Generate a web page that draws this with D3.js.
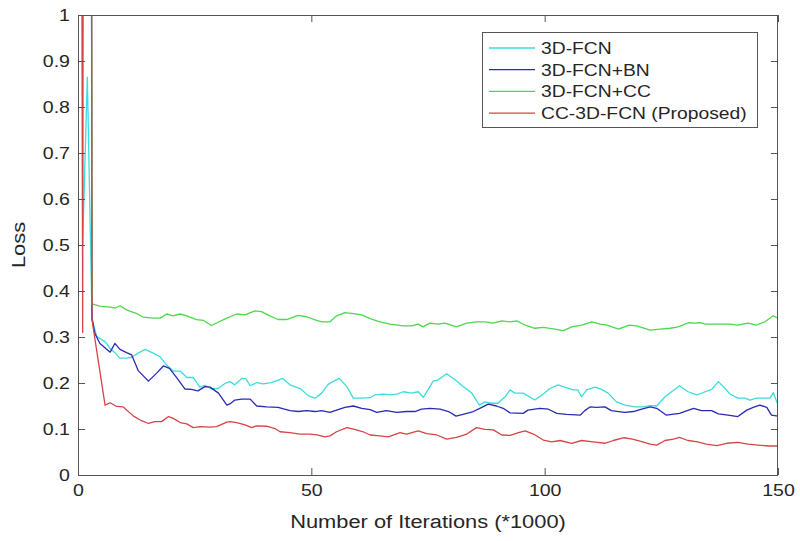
<!DOCTYPE html>
<html lang="en">
<head>
  <meta charset="UTF-8">
  <title>Loss curves</title>
  <script src="https://cdnjs.cloudflare.com/ajax/libs/d3/7.8.5/d3.min.js"></script>
  <style>
    * { margin: 0; padding: 0; }
    html, body { background: #fff; }
    svg text { font-family: "Liberation Sans", Arial, sans-serif; fill: #262626; }
  </style>
</head>
<body>
<div id="chart"></div>
<script>
  // values: [iteration (*1000), loss]
  const fcn = [[0,6],[1,0.5],[2,0.865],[3,0.34],[4,0.301],[5.8,0.29],[6.9,0.275],[7.9,0.266],[9,0.254],[10.4,0.254],[11.5,0.256],[12.9,0.265],[14.4,0.273],[16.1,0.265],[17.6,0.257],[19,0.239],[20.4,0.226],[21.9,0.226],[23.3,0.212],[24.7,0.212],[26.1,0.191],[27.2,0.195],[28.6,0.187],[30,0.188],[31.5,0.199],[32.6,0.203],[33.6,0.196],[35.1,0.21],[36,0.209],[36.9,0.194],[38.3,0.201],[39.7,0.198],[41.4,0.201],[42.6,0.205],[43.9,0.21],[45.4,0.196],[47.6,0.188],[49.4,0.172],[50.8,0.167],[52.2,0.178],[53.6,0.197],[54.6,0.203],[56,0.21],[57.6,0.192],[59,0.167],[60.8,0.167],[62.6,0.168],[63.6,0.174],[65.4,0.176],[66.9,0.174],[68.3,0.176],[69.7,0.181],[71.5,0.178],[72.9,0.181],[74,0.169],[75,0.185],[76.1,0.204],[77.2,0.207],[79,0.22],[80.8,0.207],[82.6,0.192],[84.4,0.178],[86,0.152],[87.2,0.159],[88.6,0.156],[90,0.156],[91.5,0.17],[92.6,0.185],[93.6,0.178],[95.4,0.178],[97.9,0.163],[99.7,0.176],[101.1,0.188],[102.9,0.196],[104.3,0.191],[106.1,0.185],[107.1,0.185],[107.9,0.17],[109,0.185],[110.8,0.191],[112.2,0.186],[113.6,0.178],[115.4,0.159],[117.2,0.152],[119.3,0.148],[121.1,0.148],[122.6,0.151],[124,0.15],[125.8,0.17],[127.2,0.181],[128.9,0.194],[130.7,0.181],[132.6,0.174],[134.4,0.181],[135.8,0.186],[137.2,0.203],[138.3,0.192],[139.7,0.176],[141.4,0.167],[142.9,0.167],[144,0.163],[145.4,0.167],[147.2,0.167],[148.3,0.167],[149,0.179],[150,0.152]]
  const fcnBN = [[0,6],[1,5],[2,8],[3,0.341],[3.6,0.308],[4.7,0.286],[6.9,0.267],[7.9,0.286],[9,0.273],[10.4,0.266],[11.5,0.261],[12.9,0.227],[15.1,0.204],[16.9,0.222],[18.3,0.237],[19.6,0.232],[21.1,0.212],[22.9,0.187],[24.3,0.186],[25.7,0.183],[27.2,0.192],[28.3,0.191],[30.1,0.178],[31.9,0.152],[32.6,0.155],[33.6,0.163],[35.1,0.165],[36.9,0.165],[38.3,0.15],[40.4,0.148],[42.9,0.147],[45.4,0.14],[47.2,0.138],[49,0.14],[50.8,0.138],[52.2,0.14],[54,0.136],[55.4,0.141],[57.2,0.147],[59,0.15],[60.8,0.145],[62.6,0.142],[64,0.136],[66.1,0.14],[68.3,0.136],[70.4,0.138],[72.2,0.138],[73.6,0.143],[75.4,0.145],[77.6,0.143],[79.4,0.138],[81,0.128],[82.9,0.133],[84.7,0.138],[86.1,0.145],[87.9,0.154],[89.7,0.15],[91.1,0.145],[92.6,0.135],[95.4,0.134],[96.4,0.141],[99,0.145],[100.8,0.143],[102.6,0.134],[104.7,0.132],[107.6,0.13],[108.6,0.14],[109.7,0.148],[111.1,0.147],[112.9,0.148],[114.3,0.14],[115.8,0.138],[117.2,0.136],[119,0.138],[120.8,0.143],[122.6,0.148],[124,0.145],[126.1,0.13],[128.9,0.134],[131.9,0.145],[133.6,0.14],[135.8,0.14],[137.2,0.133],[139.3,0.13],[141.4,0.127],[143.3,0.141],[144.7,0.147],[146.1,0.152],[147.6,0.147],[148.6,0.13],[150,0.128]]
  const fcnCC = [[0,6],[1,5],[2,8],[3,0.372],[4.7,0.367],[6.9,0.365],[8,0.363],[9,0.368],[10.4,0.359],[12.6,0.351],[14,0.343],[16.1,0.341],[17.6,0.341],[19,0.35],[20.4,0.346],[21.9,0.35],[23.3,0.346],[25.4,0.338],[26.9,0.336],[28.6,0.325],[30,0.332],[31.9,0.341],[34,0.35],[35.8,0.348],[37.9,0.357],[39.3,0.355],[41.1,0.346],[42.9,0.338],[44.7,0.338],[47.2,0.347],[49,0.344],[50.8,0.337],[52.3,0.333],[54,0.333],[55.4,0.346],[57.2,0.353],[59,0.351],[60.8,0.348],[62.6,0.34],[64.7,0.333],[66.9,0.328],[69.7,0.324],[71.5,0.324],[72.9,0.328],[73.9,0.322],[75.4,0.33],[77.2,0.328],[78.6,0.33],[81.1,0.322],[83.3,0.33],[85.4,0.333],[87.2,0.333],[89,0.33],[90.8,0.335],[92.6,0.333],[94,0.335],[95.8,0.326],[97.9,0.319],[99.7,0.321],[102.2,0.317],[104,0.314],[105.8,0.322],[107.9,0.326],[110.1,0.333],[111.9,0.328],[113.4,0.326],[115.8,0.317],[118.1,0.326],[119.7,0.324],[122.6,0.315],[124.7,0.317],[126.9,0.319],[128.6,0.322],[130.8,0.331],[132.2,0.33],[133.3,0.331],[134.4,0.328],[136.9,0.328],[139.7,0.328],[141.4,0.326],[143.6,0.33],[145.3,0.326],[147.2,0.333],[149,0.346],[150,0.341]]
  const ccFCN = [[0,6],[1,0.31],[2,8],[3,0.337],[5.8,0.152],[6.9,0.157],[8.3,0.149],[9.7,0.148],[11.9,0.128],[13.6,0.118],[15.1,0.112],[16.5,0.116],[17.9,0.116],[19.4,0.127],[20.4,0.123],[21.9,0.114],[23.3,0.111],[24.7,0.103],[26.1,0.105],[28.3,0.104],[29.7,0.105],[31.9,0.115],[32.6,0.116],[34,0.114],[35.8,0.109],[37.2,0.103],[38.3,0.107],[40.4,0.106],[42.2,0.101],[43.3,0.094],[45.4,0.092],[47.6,0.089],[49.7,0.089],[51.2,0.087],[52.9,0.083],[54,0.085],[55.4,0.094],[57.6,0.103],[59.3,0.099],[61.1,0.094],[62.6,0.087],[64.7,0.085],[66.5,0.083],[69,0.092],[70.4,0.089],[72.9,0.096],[74.7,0.09],[76.9,0.087],[79,0.078],[81.1,0.082],[83.3,0.089],[85.4,0.103],[87.2,0.099],[89,0.098],[90.8,0.087],[92.6,0.086],[94.4,0.092],[95.8,0.096],[97.6,0.089],[99.7,0.076],[101.5,0.072],[103.3,0.075],[105.8,0.069],[107.9,0.075],[110.4,0.072],[112.9,0.069],[114.7,0.075],[117,0.081],[118.8,0.078],[121,0.072],[122.6,0.067],[124,0.065],[125.8,0.075],[127.6,0.078],[128.9,0.082],[130.7,0.075],[132.8,0.072],[134.6,0.067],[136.9,0.064],[139,0.069],[141.4,0.071],[143.6,0.067],[145.7,0.065],[147.9,0.063],[150,0.063]]

  const names = ['3D-FCN', '3D-FCN+BN', '3D-FCN+CC', 'CC-3D-FCN (Proposed)']
  const colors = ['#3ddcdc', '#2a2ab4', '#4cd84c', '#d64545']
  const series = [fcn, fcnBN, fcnCC, ccFCN]
  const xTicks = [0, 50, 100, 150]
  const yTicks = [0, 0.1, 0.2, 0.3, 0.4, 0.5, 0.6, 0.7, 0.8, 0.9, 1]
  const yLabels = ['0', '0.1', '0.2', '0.3', '0.4', '0.5', '0.6', '0.7', '0.8', '0.9', '1']

  const W = 800, H = 541
  const pl = 78, pr = 778, pt = 15, pb = 475
  const stretch = 'scale(1.15,1)'  // glyphs in the figure are a bit wide

  const svg = d3.select('#chart').append('svg')
    .attr('width', W).attr('height', H)

  const x = d3.scaleLinear().domain([0, 150]).range([pl, pr])
  const y = d3.scaleLinear().domain([0, 1]).range([pb, pt])

  svg.append('clipPath').attr('id', 'plot')
    .append('rect')
    .attr('x', pl).attr('y', pt)
    .attr('width', pr - pl).attr('height', pb - pt)

  const line = d3.line().x(d => x(d[0])).y(d => y(d[1]))

  svg.append('g').attr('clip-path', 'url(#plot)')
    .selectAll('path').data(series).join('path')
    .attr('fill', 'none')
    .attr('stroke', (d, i) => colors[i])
    .attr('stroke-width', 1.3)
    .attr('stroke-linejoin', 'round')
    .attr('d', line)

  // box with inward ticks, MATLAB style
  const axisColor = '#555'
  const styleAxis = g => {
    g.select('.domain').remove()
    g.selectAll('.tick line').attr('stroke', axisColor)
    g.selectAll('.tick text').attr('transform', stretch)
      .style('font-size', '17px').attr('fill', '#262626')
  }
  svg.append('g').attr('transform', `translate(0,${pb})`)
    .call(d3.axisBottom(x).tickValues(xTicks).tickSize(-7).tickPadding(9))
    .call(styleAxis)
  svg.append('g').attr('transform', `translate(0,${pt})`)
    .call(d3.axisTop(x).tickValues(xTicks).tickSize(-7).tickFormat(''))
    .call(styleAxis)
  svg.append('g').attr('transform', `translate(${pl},0)`)
    .call(d3.axisLeft(y).tickValues(yTicks).tickSize(-7).tickPadding(7)
      .tickFormat((d, i) => yLabels[i]))
    .call(styleAxis)
  svg.append('g').attr('transform', `translate(${pr},0)`)
    .call(d3.axisRight(y).tickValues(yTicks).tickSize(-7).tickFormat(''))
    .call(styleAxis)

  svg.append('rect')
    .attr('x', pl + 0.5).attr('y', pt + 0.5)
    .attr('width', pr - pl - 1).attr('height', pb - pt)
    .attr('fill', 'none').attr('stroke', axisColor)

  // axis titles
  svg.append('g').attr('transform', `translate(${(pl + pr) / 2},528)`)
    .append('text').attr('text-anchor', 'middle').attr('transform', stretch)
    .style('font-size', '19px').text('Number of Iterations (*1000)')
  svg.append('g').attr('transform', `translate(25,${(pt + pb) / 2}) rotate(-90)`)
    .append('text').attr('text-anchor', 'middle').attr('transform', stretch)
    .style('font-size', '19px').text('Loss')

  // legend
  const lg = svg.append('g').attr('transform', 'translate(482,32)')
  lg.append('rect').attr('x', 0.5).attr('y', 0.5).attr('width', 275).attr('height', 95)
    .attr('fill', '#fff').attr('stroke', axisColor)
  const item = lg.selectAll('.item').data(names).join('g').attr('class', 'item')
    .attr('transform', (d, i) => `translate(0,${16 + i * 21.7})`)
  item.append('line').attr('x1', 7).attr('x2', 53)
    .attr('stroke', (d, i) => colors[i]).attr('stroke-width', 1.3)
  item.append('g').attr('transform', 'translate(59,6)')
    .append('text').attr('transform', 'scale(1.17,1)')
    .style('font-size', '16.5px').text(d => d)
</script>
</body>
</html>
